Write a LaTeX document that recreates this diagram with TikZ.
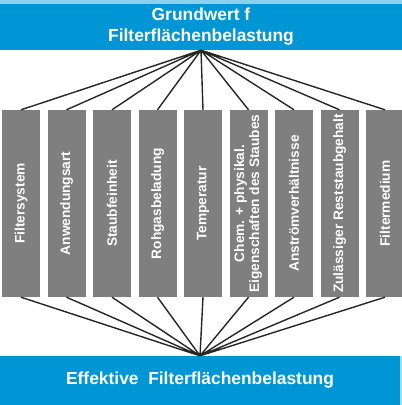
\documentclass[tikz,border=0pt]{standalone}
\usepackage{fontspec}
\setmainfont{Liberation Sans}
\usepackage{tikz}
\usetikzlibrary{positioning}
\definecolor{barblue}{RGB}{0,150,214}
\definecolor{boxgrey}{RGB}{127,127,127}
\begin{document}
\begin{tikzpicture}[
	bar/.style = {fill = barblue, rectangle, inner sep = 0pt, text = white, font = \fontsize{17.4}{21}\selectfont\bfseries, align = center},
	factor/.style = {fill = boxgrey, rectangle, inner sep = 0pt, minimum width = 38pt, minimum height = 187pt, text = white, font = \fontsize{13.7}{15}\selectfont\bfseries},
	link/.style = {line width = 1.4pt, black!85}]
		\useasboundingbox (0,0) rectangle (402pt,-405pt);
		\fill[barblue!45] (0,0) rectangle (402pt,-4pt);
		\fill[barblue!35] (400pt,-356pt) rectangle (402pt,-405pt);
		\node[bar, minimum width = 402pt, minimum height = 46pt] at (201pt,-27pt) (top) {Grundwert f\\Filterflächenbelastung};
		\node[bar, minimum width = 400pt, minimum height = 49pt] at (200pt,-380.5pt) (bot) {Effektive\ \ Filterflächenbelastung};
		\node[factor] at (21pt,-203.5pt) (b1) {\rotatebox{90}{Filtersystem}};
		\node[factor, right = 7.1pt of b1] (b2) {\rotatebox{90}{Anwendungsart}};
		\node[factor, right = 7.1pt of b2] (b3) {\rotatebox{90}{Staubfeinheit}};
		\node[factor, right = 7.1pt of b3] (b4) {\rotatebox{90}{Rohgasbeladung}};
		\node[factor, right = 7.1pt of b4] (b5) {\rotatebox{90}{Temperatur}};
		\node[factor, right = 7.1pt of b5] (b6) {\rotatebox{90}{\begin{tabular}{@{}c@{}}Chem. + physikal.\\Eigenschaften\ des\ Staubes\end{tabular}}};
		\node[factor, right = 7.1pt of b6] (b7) {\rotatebox{90}{Anströmverhältnisse}};
		\node[factor, right = 7.1pt of b7] (b8) {\rotatebox{90}{Zulässiger Reststaubgehalt}};
		\node[factor, right = 7.1pt of b8] (b9) {\rotatebox{90}{Filtermedium}};
		\draw[link] (top.south) -- (b1.north) (top.south) -- (b2.north) (top.south) -- (b3.north)
			(top.south) -- (b4.north) (top.south) -- (b5.north) (top.south) -- (b6.north)
			(top.south) -- (b7.north) (top.south) -- (b8.north) (top.south) -- (b9.north);
		\draw[link] (b1.south) -- (bot.north) (b2.south) -- (bot.north) (b3.south) -- (bot.north)
			(b4.south) -- (bot.north) (b5.south) -- (bot.north) (b6.south) -- (bot.north)
			(b7.south) -- (bot.north) (b8.south) -- (bot.north) (b9.south) -- (bot.north);
	\end{tikzpicture}
\end{document}
